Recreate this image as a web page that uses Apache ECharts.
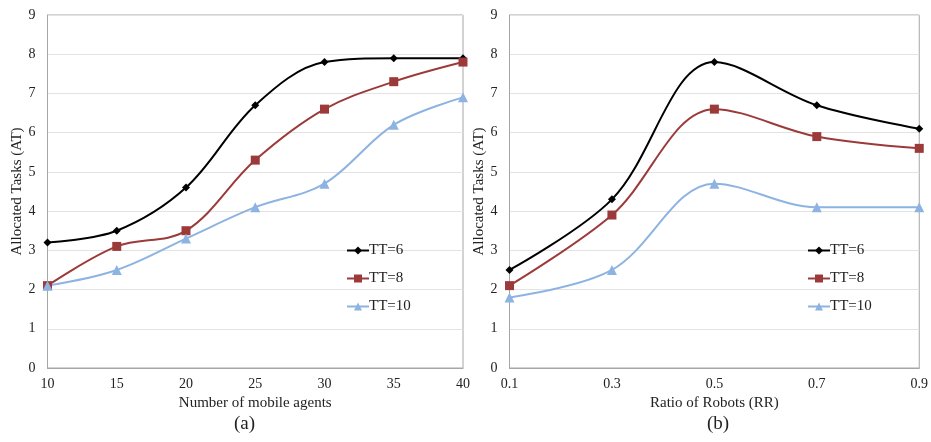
<!DOCTYPE html>
<html>
<head>
<meta charset="utf-8">
<script src="https://cdn.jsdelivr.net/npm/echarts@6/dist/echarts.min.js"></script>
<style>
html,body{margin:0;padding:0;background:#fff;}
#chart{width:931px;height:442px;}
</style>
</head>
<body>
<div id="chart"></div>
<script>
const agents = ['10','15','20','25','30','35','40'];
const ratios = ['0.1','0.3','0.5','0.7','0.9'];
const seriesNames = ['TT=6','TT=8','TT=10'];
const yTicks = [0,1,2,3,4,5,6,7,8,9];

const aTT6  = [3.2, 3.5, 4.6, 6.7, 7.8, 7.9, 7.9];
const aTT8  = [2.1, 3.1, 3.5, 5.3, 6.6, 7.3, 7.8];
const aTT10 = [2.1, 2.5, 3.3, 4.1, 4.7, 6.2, 6.9];

const bTT6  = [2.5, 4.3, 7.8, 6.7, 6.1];
const bTT8  = [2.1, 3.9, 6.6, 5.9, 5.6];
const bTT10 = [1.8, 2.5, 4.7, 4.1, 4.1];

const colors = ['#000000', '#9c3a3a', '#8db3e2'];
const symbols = ['diamond', 'rect', 'triangle'];
const symbolSizes = [8, 9, 10];
const font = 'Liberation Serif, Times New Roman, serif';

const chart = echarts.init(document.getElementById('chart'));

function mkX(data, idx, name) {
  return {
    type: 'category', gridIndex: idx, data: data, boundaryGap: false,
    name: name, nameLocation: 'middle', nameGap: 26,
    nameTextStyle: {fontFamily: font, fontSize: 15, color: '#222'},
    axisLine: {lineStyle: {color: '#a6a6a6'}},
    axisTick: {show: false},
    axisLabel: {fontFamily: font, fontSize: 14, color: '#222', margin: 9},
    splitLine: {show: false}
  };
}
function mkY(idx) {
  return {
    type: 'value', gridIndex: idx, min: yTicks[0], max: yTicks[yTicks.length-1], interval: 1,
    name: 'Allocated Tasks (AT)', nameLocation: 'middle', nameGap: 22,
    nameTextStyle: {fontFamily: font, fontSize: 15, color: '#222'},
    axisLine: {show: true, lineStyle: {color: '#a6a6a6'}},
    axisTick: {show: false},
    axisLabel: {fontFamily: font, fontSize: 14, color: '#222', margin: 12},
    splitLine: {lineStyle: {color: '#e3e3e3'}}
  };
}
function mkSeries(vals, i, idx) {
  return {
    name: seriesNames[i], type: 'line', xAxisIndex: idx, yAxisIndex: idx,
    data: vals, smooth: 0.35,
    symbol: symbols[i], symbolSize: symbolSizes[i], showSymbol: true,
    lineStyle: {color: colors[i], width: 2},
    itemStyle: {color: colors[i]},
    emphasis: {disabled: true}
  };
}
function mkLegend(left) {
  return {
    data: seriesNames, orient: 'vertical', left: left, top: 238, itemGap: 13,
    itemWidth: 22, itemHeight: 10,
    textStyle: {fontFamily: font, fontSize: 15, color: '#222', padding: [0,0,0,-5]},
    selectedMode: false
  };
}

chart.setOption({
  animation: false,
  backgroundColor: '#fff',
  title: [
    {text: '(a)', left: 234, top: 415, textStyle: {fontFamily: font, fontSize: 19, fontWeight: 'normal', color: '#222'}, padding: 0},
    {text: '(b)', left: 707, top: 415, textStyle: {fontFamily: font, fontSize: 19, fontWeight: 'normal', color: '#222'}, padding: 0}
  ],
  grid: [
    {left: 47.5, right: 468, top: 15, bottom: 74, show: true, borderColor: '#a6a6a6', borderWidth: 1},
    {left: 509.5, right: 9.5, top: 15, bottom: 74, show: true, borderColor: '#a6a6a6', borderWidth: 1}
  ],
  xAxis: [mkX(agents, 0, 'Number of mobile agents'), mkX(ratios, 1, 'Ratio of Robots (RR)')],
  yAxis: [mkY(0), mkY(1)],
  legend: [mkLegend(341), mkLegend(802)],
  series: [
    mkSeries(aTT6, 0, 0), mkSeries(aTT8, 1, 0), mkSeries(aTT10, 2, 0),
    mkSeries(bTT6, 0, 1), mkSeries(bTT8, 1, 1), mkSeries(bTT10, 2, 1)
  ]
});
</script>
</body>
</html>
